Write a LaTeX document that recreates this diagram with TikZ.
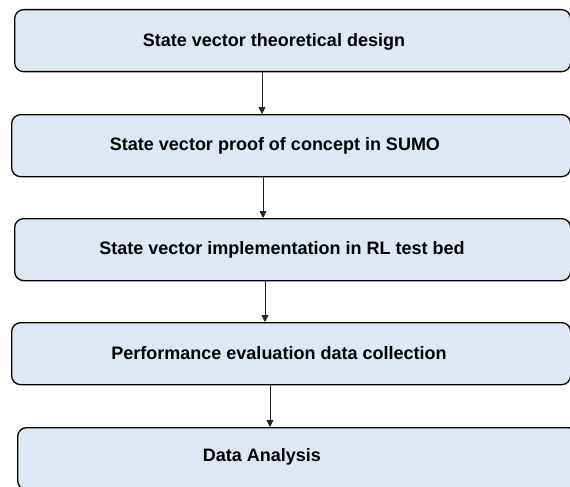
\documentclass[tikz,border=0pt]{standalone}
\usepackage{fontspec}
\setmainfont{Liberation Sans}
\usetikzlibrary{arrows.meta}
\definecolor{boxfill}{HTML}{DEE8F5}
\definecolor{arrcol}{HTML}{222222}
\tikzset{
  stepbox/.style={draw=black, line width=1.3pt, fill=boxfill, rounded corners=9pt, minimum height=62pt, inner sep=0pt, anchor=north west},
  steptext/.style={font=\bfseries\fontsize{18}{20}\selectfont, text=black, inner sep=0pt},
  arr/.style={draw=arrcol, line width=0.9pt, -{Triangle[width=7pt,length=7pt]}}
}
\begin{document}
\begin{tikzpicture}[x=1pt,y=-1pt]
\useasboundingbox (0,0) rectangle (570,487);
\clip (0,0) rectangle (570,487);
\node[stepbox, minimum width=556pt] (b1) at (14,9) {};
\node[stepbox, minimum width=559pt] (b2) at (11,114) {};
\node[stepbox, minimum width=556pt] (b3) at (14,218) {};
\node[stepbox, minimum width=559pt] (b4) at (11,322) {};
\node[stepbox, minimum width=560pt] (b5) at (17,427) {};
\node[steptext] (t1) at (274,42) {State vector theoretical design};
\node[steptext] (t2) at (275,146) {State vector proof of concept in SUMO};
\node[steptext] (t3) at (282,250) {State vector implementation in RL test bed};
\node[steptext] (t4) at (279,353) {Performance evaluation data collection};
\node[steptext] (t5) at (262,457) {Data Analysis};
\coordinate (a1) at (262,0); \coordinate (a2) at (263,0);
\coordinate (a3) at (265,0); \coordinate (a4) at (270,0);
\draw[arr] (a1 |- b1.south) -- (a1 |- b2.north);
\draw[arr] (a2 |- b2.south) -- (a2 |- b3.north);
\draw[arr] (a3 |- b3.south) -- (a3 |- b4.north);
\draw[arr] (a4 |- b4.south) -- (a4 |- b5.north);
\end{tikzpicture}
\end{document}
